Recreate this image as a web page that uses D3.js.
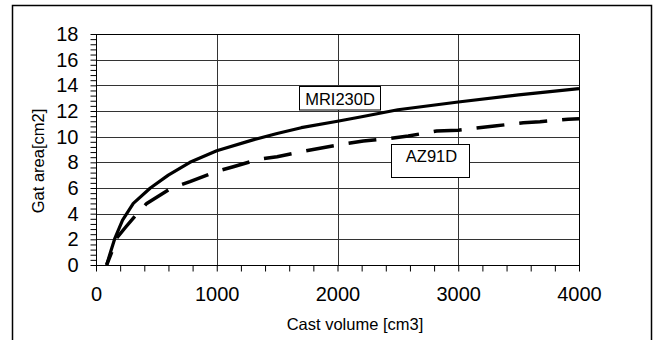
<!DOCTYPE html>
<html>
<head>
<meta charset="utf-8">
<script src="https://cdn.jsdelivr.net/npm/d3@7"></script>
<style>
  body { margin: 0; background: #fff; }
  svg { display: block; font-family: "Liberation Sans", Arial, sans-serif; }
</style>
</head>
<body>
<div id="chart"></div>
<script>
// Curve points: [cast volume cm3, gate area cm2]
const mri230d = [
  [88, 0], [120, 1.0], [157, 2.1], [220, 3.5], [309, 4.8], [450, 6.0],
  [599, 7.0], [778, 8.0], [1000, 8.9], [1300, 9.75], [1500, 10.25],
  [1700, 10.7], [2000, 11.2], [2200, 11.55], [2500, 12.1], [3000, 12.7],
  [3500, 13.25], [4000, 13.75]
];
const az91d = [
  [88, 0], [130, 1.0], [171, 2.1], [250, 3.0], [323, 3.8], [420, 4.8],
  [627, 6.0], [778, 6.5], [1000, 7.3], [1137, 7.66], [1358, 8.26],
  [1500, 8.44], [1731, 8.88], [2000, 9.35], [2214, 9.66], [2435, 9.87],
  [2586, 10.05], [2821, 10.44], [3000, 10.5], [3300, 10.83], [3539, 11.09],
  [3677, 11.17], [3911, 11.36], [4000, 11.4]
];
const xTicks = [0, 1000, 2000, 3000, 4000];
const yTicks = [0, 2, 4, 6, 8, 10, 12, 14, 16, 18];

const W = 656, H = 340;
const margin = { top: 34, right: 77, bottom: 75, left: 96 };
const width = W - margin.left - margin.right;
const height = H - margin.top - margin.bottom;

const root = d3.select("#chart").append("svg")
  .attr("width", W)
  .attr("height", H);

// outer frame (bottom edge runs past the picture)
root.append("rect")
  .attr("x", 12.5).attr("y", 5.5)
  .attr("width", 639).attr("height", 400)
  .attr("fill", "none")
  .attr("stroke", "#000")
  .attr("stroke-width", 1.5);

const svg = root.append("g")
  .attr("transform", `translate(${margin.left}, ${margin.top})`);

const x = d3.scaleLinear().domain([0, 4000]).range([0, width]);
const y = d3.scaleLinear().domain([0, 18]).range([height, 0]);

// grid
svg.append("g")
  .selectAll("line")
  .data(yTicks.slice(1, -1))
  .join("line")
  .attr("x1", 0).attr("x2", width)
  .attr("y1", d => Math.round(y(d)) + 0.5)
  .attr("y2", d => Math.round(y(d)) + 0.5)
  .attr("stroke", "#333");
svg.append("g")
  .selectAll("line")
  .data(xTicks.slice(1, -1))
  .join("line")
  .attr("y1", 0).attr("y2", height)
  .attr("x1", d => Math.round(x(d)) + 0.5)
  .attr("x2", d => Math.round(x(d)) + 0.5)
  .attr("stroke", "#333");

svg.append("rect")
  .attr("x", 0.5).attr("y", 0.5)
  .attr("width", width).attr("height", height)
  .attr("fill", "none")
  .attr("stroke", "#000");

// y axis: minor ticks every 0.4, labels every 2
const yAxis = d3.axisLeft(y)
  .tickValues(d3.range(0, 18.01, 0.4))
  .tickSize(6)
  .tickFormat(d => yTicks.some(t => Math.abs(t - d) < 1e-6) ? Math.round(d) : "");
const gy = svg.append("g").attr("transform", "translate(0.5,0)").call(yAxis);
gy.select(".domain").remove();
gy.selectAll("text")
  .attr("x", -18)
  .style("font-size", "20px")
  .attr("fill", "#000");

// x axis: minor ticks every 200
const xAxis = d3.axisBottom(x)
  .tickValues(d3.range(0, 4001, 200))
  .tickSize(6)
  .tickFormat(d => xTicks.includes(d) ? d : "");
const gx = svg.append("g").attr("transform", `translate(0, ${height + 0.5})`).call(xAxis);
gx.select(".domain").remove();
gx.selectAll("text")
  .attr("y", 21)
  .style("font-size", "20px")
  .attr("fill", "#000");

// axis titles
root.append("text")
  .attr("x", 355).attr("y", 330)
  .attr("text-anchor", "middle")
  .style("font-size", "16.5px")
  .text("Cast volume [cm3]");
root.append("text")
  .attr("transform", "translate(44, 161) rotate(-90)")
  .attr("text-anchor", "middle")
  .style("font-size", "16.5px")
  .text("Gat area[cm2]");

// curves
const line = d3.line()
  .x(d => x(d[0]))
  .y(d => y(d[1]));

svg.append("path")
  .datum(az91d)
  .attr("d", line)
  .attr("fill", "none")
  .attr("stroke", "#000")
  .attr("stroke-width", 3.5)
  .attr("stroke-linejoin", "round")
  .attr("stroke-dasharray", "28,15")
  .attr("stroke-dashoffset", 14);

svg.append("path")
  .datum(mri230d)
  .attr("d", line)
  .attr("fill", "none")
  .attr("stroke", "#000")
  .attr("stroke-width", 3.2)
  .attr("stroke-linejoin", "round");

// series labels
const labels = [
  { text: "MRI230D", x0: 299.5, y0: 86.5, w: 81, h: 23.5, tx: 340, ty: 104.5 },
  { text: "AZ91D", x0: 391.5, y0: 144.5, w: 78, h: 33, tx: 431.5, ty: 162 }
];
labels.forEach(l => {
  root.append("rect")
    .attr("x", l.x0).attr("y", l.y0)
    .attr("width", l.w).attr("height", l.h)
    .attr("fill", "#fff")
    .attr("stroke", "#000");
  root.append("text")
    .attr("x", l.tx).attr("y", l.ty)
    .attr("text-anchor", "middle")
    .style("font-size", "16.5px")
    .text(l.text);
});
</script>
</body>
</html>
